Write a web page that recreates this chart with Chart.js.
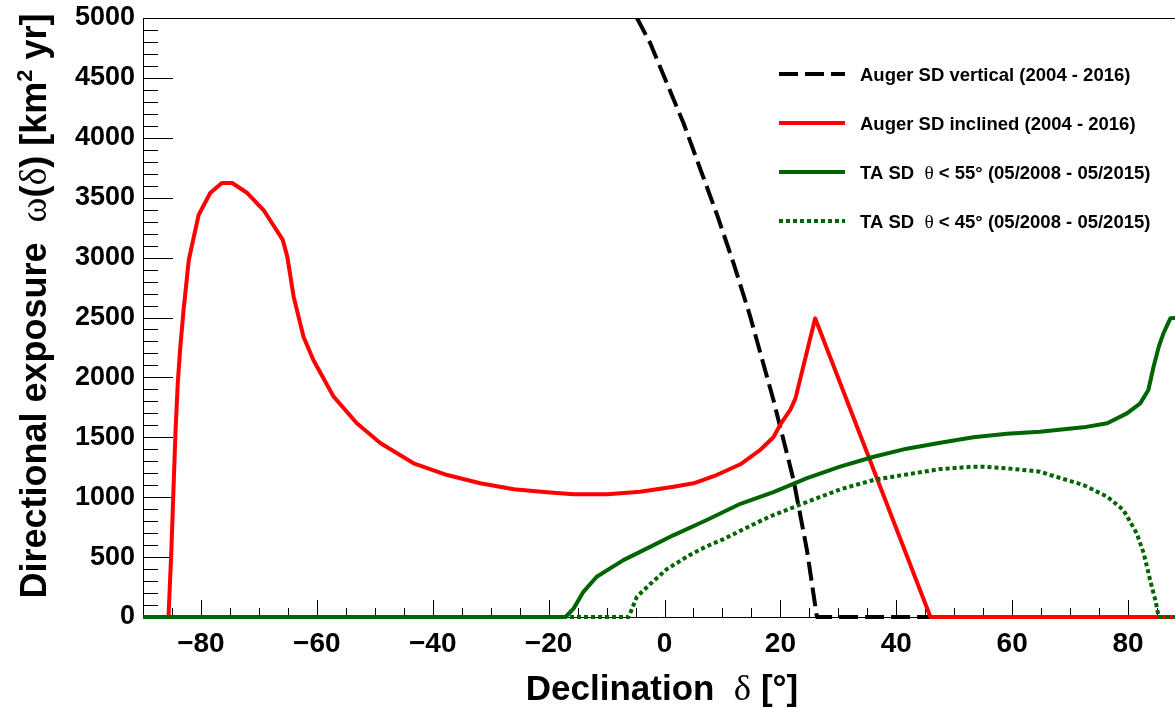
<!DOCTYPE html>
<html>
<head>
<meta charset="utf-8">
<title>Directional exposure</title>
<script src="https://cdn.jsdelivr.net/npm/chart.js@4.4.1/dist/chart.umd.min.js"></script>
<style>
  html, body { margin: 0; padding: 0; background: #fff; }
</style>
</head>
<body>
<canvas id="exposureChart" width="1175" height="708"></canvas>
<script>
// Series: declination [deg] and exposure [km^2 yr]
const vertDecl     = [-4.75, -2.46, 0.42, 3.29, 6.17, 9.05, 11.92, 14.8, 18.8, 22.27, 24.58, 26.3, 90];
const vertExposure = [5000, 4789, 4455, 4121, 3740, 3360, 2952, 2507, 1811, 1144, 559, 0, 0];

const inclDecl     = [-90, -85.6, -85.1, -84.7, -84.4, -84.0, -83.6, -83.0, -82.1, -80.4, -78.4, -76.4, -74.6, -72.0, -69.2, -65.9,
                      -65.1, -64.0, -62.3, -60.6, -57.1, -53.1, -49.0, -43.3, -37.5, -31.8, -26.0, -20.3, -15.7, -9.9, -4.2,
                      1.6, 5.0, 9.0, 13.1, 16.5, 18.8, 20.0, 21.7, 22.6, 26.0, 45.9, 90];
const inclExposure = [0, 0, 560, 1118, 1536, 1953, 2229, 2563, 2980, 3356, 3539, 3623, 3623, 3539, 3397, 3150,
                      3008, 2674, 2340, 2145, 1839, 1617, 1450, 1283, 1185, 1116, 1066, 1041, 1024, 1024, 1046,
                      1088, 1116, 1185, 1275, 1394, 1500, 1608, 1728, 1825, 2493, 0, 0];

const ta55Decl     = [-90, -17.1, -15.7, -14.0, -11.7, -7.1, -3.0, 1.6, 7.3, 13.1, 18.8, 24.6, 30.3, 36.1, 41.8, 47.6,
                      53.3, 59.1, 64.8, 72.3, 76.4, 79.8, 82.1, 83.5, 84.4, 85.3, 86.1, 87.3, 90];
const ta55Exposure = [0, 0, 70, 210, 336, 475, 573, 684, 810, 945, 1043, 1160, 1255, 1338, 1405, 1455,
                      1500, 1530, 1547, 1583, 1617, 1700, 1783, 1895, 2089, 2256, 2368, 2493, 2500];

const ta45Decl     = [-90, -6.2, -4.75, -2.46, 0.42, 4.44, 7.3, 10.19, 13.1, 16.5, 18.8, 24.6, 30.3, 36.1, 41.8, 47.6,
                      53.3, 55.1, 59.1, 64.8, 66.6, 72.3, 76.4, 79.2, 81.5, 82.7, 83.8, 84.7, 85.3, 90];
const ta45Exposure = [0, 0, 170, 275, 400, 520, 590, 650, 720, 800, 851, 960, 1065, 1144, 1190, 1235,
                      1255, 1255, 1241, 1213, 1185, 1102, 1004, 893, 698, 532, 309, 142, 0, 0];

const seriesLabels = [
  'Auger SD vertical (2004 - 2016)',
  'Auger SD inclined (2004 - 2016)',
  'TA SD  \u03b8 < 55\u00b0 (05/2008 - 05/2015)',
  'TA SD  \u03b8 < 45\u00b0 (05/2008 - 05/2015)'
];

const xTitle = 'Declination  \u03b4 [\u00b0]';
const yTitle = 'Directional exposure  \u03c9(\u03b4) [km\u00b2 yr]';

const xRange = [-90, 88.1];
const yRange = [0, 5000];

const SANS = '"Liberation Sans", Arial, sans-serif';
const SERIF = '"Liberation Serif", "DejaVu Serif", serif';
const GREEN = '#006400';

function toPoints(xs, ys) {
  return xs.map((x, i) => ({ x: x, y: ys[i] }));
}

// Draw a string with bold sans text, greek letters in a serif face and a superscript 2
function drawRich(ctx, text, x, y, size, align) {
  const parts = [];
  for (const ch of text) {
    let kind = 'txt';
    if (/[\u03b4\u03c9\u03b8]/.test(ch)) kind = 'greek';
    else if (ch === '\u00b2') kind = 'sup';
    const last = parts[parts.length - 1];
    if (last && last.kind === kind && kind !== 'sup') last.str += ch;
    else parts.push({ kind: kind, str: kind === 'sup' ? '2' : ch });
  }
  const fontFor = k => k === 'greek' ? (size * 1.05) + 'px ' + SERIF
                   : k === 'sup' ? 'bold ' + Math.round(size * 0.6) + 'px ' + SANS
                   : 'bold ' + size + 'px ' + SANS;
  let total = 0;
  parts.forEach(p => { ctx.font = fontFor(p.kind); p.w = ctx.measureText(p.str).width; total += p.w; });
  let cx = align === 'center' ? x - total / 2 : x;
  ctx.textAlign = 'left';
  ctx.textBaseline = 'alphabetic';
  parts.forEach(p => {
    ctx.font = fontFor(p.kind);
    ctx.fillText(p.str, cx, p.kind === 'sup' ? y - size * 0.4 : y);
    cx += p.w;
  });
}

// ROOT style frame: ticks pointing into the plot, top frame line
const frameTicks = {
  id: 'frameTicks',
  beforeDatasetsDraw(chart) {
    const { ctx, chartArea: a, scales: { x, y } } = chart;
    ctx.save();
    ctx.strokeStyle = '#000';
    ctx.lineWidth = 1;
    ctx.beginPath();
    for (let v = -90; v <= x.max; v += 5) {
      const px = Math.round(x.getPixelForValue(v)) + 0.5;
      const len = v % 20 === 0 ? 17 : 9;
      ctx.moveTo(px, a.bottom);
      ctx.lineTo(px, a.bottom - len);
    }
    for (let v = 0; v <= y.max; v += 100) {
      const py = Math.round(y.getPixelForValue(v)) + 0.5;
      const len = v % 500 === 0 ? 30 : 15;
      ctx.moveTo(a.left, py);
      ctx.lineTo(a.left + len, py);
    }
    ctx.moveTo(a.left, a.top + 0.5);
    ctx.lineTo(a.right, a.top + 0.5);
    ctx.stroke();
    ctx.restore();
  }
};

// Legend inside the frame plus axis titles with mixed fonts
const overlayText = {
  id: 'overlayText',
  afterDraw(chart) {
    const ctx = chart.ctx;
    ctx.save();
    ctx.fillStyle = '#000';
    chart.data.datasets.forEach((ds, i) => {
      const rowY = 74 + i * 49;
      ctx.beginPath();
      ctx.strokeStyle = ds.borderColor;
      ctx.lineWidth = ds.borderWidth;
      ctx.setLineDash(ds.borderDash || []);
      ctx.moveTo(779, rowY);
      ctx.lineTo(845, rowY);
      ctx.stroke();
      ctx.setLineDash([]);
      drawRich(ctx, ds.label, 860, rowY + 6.5, 18.5, 'left');
    });

    drawRich(ctx, xTitle, 662, 700, 35, 'center');

    ctx.translate(46, 306);
    ctx.rotate(-Math.PI / 2);
    drawRich(ctx, yTitle, 0, 0, 36, 'center');
    ctx.restore();
  }
};

const ctx = document.getElementById('exposureChart').getContext('2d');

new Chart(ctx, {
  type: 'line',
  data: {
    datasets: [{
      label: seriesLabels[0],
      data: toPoints(vertDecl, vertExposure),
      borderColor: '#000000',
      borderWidth: 4,
      borderDash: [19, 7],
      order: 4
    }, {
      label: seriesLabels[1],
      data: toPoints(inclDecl, inclExposure),
      borderColor: '#ff0000',
      borderWidth: 4,
      order: 3
    }, {
      label: seriesLabels[2],
      data: toPoints(ta55Decl, ta55Exposure),
      borderColor: GREEN,
      borderWidth: 4,
      order: 2
    }, {
      label: seriesLabels[3],
      data: toPoints(ta45Decl, ta45Exposure),
      borderColor: GREEN,
      borderWidth: 4,
      borderDash: [4, 3],
      order: 1
    }]
  },
  options: {
    responsive: false,
    animation: false,
    datasets: {
      line: {
        pointRadius: 0,
        fill: false,
        tension: 0,
        borderJoinStyle: 'round',
        clip: { left: 0, top: 0, right: 0, bottom: 4 }
      }
    },
    layout: { padding: { top: 18, right: 0, bottom: 0, left: 0 } },
    plugins: {
      legend: { display: false },
      tooltip: { enabled: false }
    },
    scales: {
      x: {
        type: 'linear',
        min: xRange[0],
        max: xRange[1],
        afterFit(scale) {
          scale.height = 91;
          scale.paddingLeft = 0;
          scale.paddingRight = 0;
        },
        grid: { display: false, drawTicks: false },
        border: { display: true, color: '#000', width: 1 },
        ticks: {
          stepSize: 20,
          includeBounds: false,
          padding: 10,
          color: '#000',
          font: { family: SANS, size: 28, weight: 'bold' },
          callback: v => String(v).replace('-', '\u2212')
        }
      },
      y: {
        type: 'linear',
        min: yRange[0],
        max: yRange[1],
        afterFit(scale) {
          scale.width = 143;
          scale.paddingTop = 0;
          scale.paddingBottom = 0;
        },
        grid: { display: false, drawTicks: false },
        border: { display: true, color: '#000', width: 1 },
        ticks: {
          stepSize: 500,
          padding: 8,
          color: '#000',
          font: { family: SANS, size: 27, weight: 'bold' },
          callback: v => String(v)
        }
      }
    }
  },
  plugins: [frameTicks, overlayText]
});
</script>
</body>
</html>
